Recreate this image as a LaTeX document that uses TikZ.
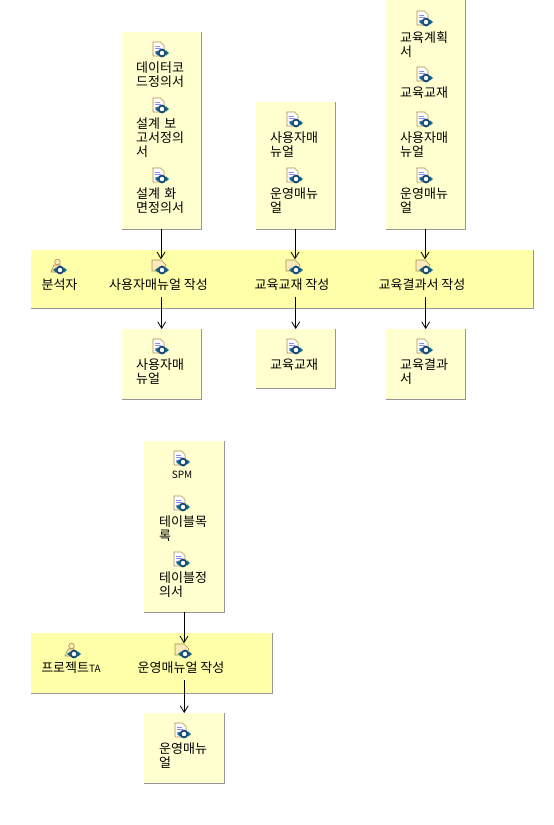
\documentclass[tikz,border=0pt]{standalone}
\usepackage{fontspec}
\setmainfont{Noto Sans CJK KR}
\usetikzlibrary{arrows.meta}
\definecolor{lanefill}{RGB}{255,255,170}
\definecolor{boxfill}{RGB}{255,255,208}
\definecolor{boxedge}{RGB}{150,150,150}
\definecolor{iconedge}{RGB}{170,140,80}
\definecolor{taskfill}{RGB}{252,235,185}
\definecolor{iconblue}{RGB}{20,70,120}
\definecolor{iconteal}{RGB}{20,110,130}
\tikzset{
    every node/.style={font=\fontsize{13}{14}\selectfont,inner sep=0pt},
    lanebox/.style={fill=lanefill,anchor=north west,minimum width=#1},
    bundlebox/.style={fill=boxfill,anchor=north west,minimum width=#1},
    docname/.style={align=left,text width=54pt,anchor=north west},
    itemname/.style={anchor=north},
    taskmark/.style={minimum size=15pt},
    flow/.style={-{Straight Barb[length=6.5pt,width=8pt]},line width=0.8pt}
}
% sync badge shared by all the icons
\newcommand{\syncbadge}[1]{
    \draw[iconblue,line width=1.8pt,fill=white] ([shift={(1,3)}]#1) circle (3.4pt);
    \fill[iconteal] ([shift={(-6,3)}]#1) -- ++(3,-2.5) -- ++(0,5) -- cycle;
    \fill[iconteal] ([shift={(8,3)}]#1) -- ++(-3,-2.5) -- ++(0,5) -- cycle;
}
\newcommand{\docicon}[1]{
    \filldraw[draw=iconedge,fill=white,line width=0.6pt] ([shift={(-8,-8)}]#1) -- ++(7.5,0) -- ++(3.5,3.5) -- ++(0,10.5) -- ++(-11,0) -- cycle;
    \draw[blue!45,line width=0.6pt] ([shift={(-6,-4)}]#1) -- ++(5,0) ([shift={(-6,-1.5)}]#1) -- ++(6,0) ([shift={(-6,1)}]#1) -- ++(3,0);
    \syncbadge{#1}
}
\newcommand{\taskicon}[1]{
    \filldraw[draw=iconedge,fill=taskfill,line width=0.6pt] ([shift={(-9,-7)}]#1) -- ++(9,0) -- ++(5,5) -- ++(-3,6) -- ++(-11,0) -- cycle;
    \syncbadge{#1}
}
\newcommand{\roleicon}[1]{
    \filldraw[draw=iconedge,fill=taskfill,line width=0.6pt] ([shift={(-1.5,-5)}]#1) circle (2.8pt);
    \filldraw[draw=iconedge,fill=taskfill,line width=0.6pt] ([shift={(-8,5)}]#1) -- ++(3,-7) -- ++(6,0) -- ++(2,7) -- cycle;
    \syncbadge{#1}
}
\begin{document}
\begin{tikzpicture}[x=1pt,y=-1pt]
\useasboundingbox (0,0) rectangle (554,825);

% Lanes
\node[lanebox=502pt,minimum height=58pt] (lane1) at (31,250) {};
\node[lanebox=241pt,minimum height=60pt] (lane2) at (31,633) {};

% Input bundles
\node[bundlebox=79pt,minimum height=197pt] (in1) at (122,32) {};
\node[bundlebox=79pt,minimum height=127pt] (in2) at (256,102) {};
\node[bundlebox=79pt,minimum height=229pt] (in3) at (386,0) {};
\node[bundlebox=80pt,minimum height=171pt] (in4) at (144,441) {};

% Output bundles
\node[bundlebox=79pt,minimum height=70pt] (out1) at (122,329) {};
\node[bundlebox=79pt,minimum height=59pt] (out2) at (256,329) {};
\node[bundlebox=79pt,minimum height=70pt] (out3) at (386,329) {};
\node[bundlebox=80pt,minimum height=70pt] (out4) at (144,713) {};

% Shadows of the boxes
\foreach \n in {in1,in2,in3,in4,out1,out2,out3,out4,lane1,lane2}
    \draw[boxedge,line width=0.8pt] (\n.north east) -- (\n.south east) -- (\n.south west);

% Icons of the documents
\foreach \n/\x/\y in {d1/161/50, d2/161/106, d3/161/176, d4/295/120, d5/295/176,
    d6/425/19, d7/425/75, d8/425/120, d9/425/176,
    d10/161/347, d11/295/347, d12/425/347, d13/182/459, d14/182/504, d15/182/560, d16/183/731}{
    \coordinate (\n) at (\x,\y);
    \docicon{\n}
}

% Document names
\node[docname] (t1) at (136,62) {데이터코\\드정의서};
\node[docname] (t2) at (136,118) {설계 보\\고서정의\\서};
\node[docname] (t3) at (136,188) {설계 화\\면정의서};
\node[docname] (t4) at (270,132) {사용자매\\뉴얼};
\node[docname] (t5) at (270,188) {운영매뉴\\얼};
\node[docname] (t6) at (400,31) {교육계획\\서};
\node[docname] (t7) at (400,87) {교육교재};
\node[docname] (t8) at (400,132) {사용자매\\뉴얼};
\node[docname] (t9) at (400,188) {운영매뉴\\얼};
\node[docname] (t10) at (136,359) {사용자매\\뉴얼};
\node[docname] (t11) at (270,359) {교육교재};
\node[docname] (t12) at (400,359) {교육결과\\서};
\node[itemname] (t13) at (182,471) {\fontsize{10}{12}\selectfont SPM};
\node[docname] (t14) at (159,516) {테이블목\\록};
\node[docname] (t15) at (159,572) {테이블정\\의서};
\node[docname] (t16) at (159,743) {운영매뉴\\얼};

% Roles
\coordinate (r1) at (59,267);
\roleicon{r1}
\coordinate (r2) at (73,651);
\roleicon{r2}
\node[itemname] (rn1) at (59.5,279) {분석자};
\node[itemname] (rn2) at (71,662) {프로젝트\fontsize{10}{12}\selectfont TA};

% Tasks
\foreach \n/\x/\y in {a1/161/267, a2/295/267, a3/425/267, a4/184/651}{
    \node[taskmark] (\n) at (\x,\y) {};
    \taskicon{\n.center}
}
\node[itemname] (an1) at (158.5,279) {사용자매뉴얼 작성};
\node[itemname] (an2) at (292,279) {교육교재 작성};
\node[itemname] (an3) at (422,279) {교육결과서 작성};
\node[itemname] (an4) at (181,662) {운영매뉴얼 작성};

% Flows
\draw[flow] (in1.south -| a1) -- (a1.north);
\draw[flow] (in2.south -| a2) -- (a2.north);
\draw[flow] (in3.south -| a3) -- (a3.north);
\draw[flow] (in4.south -| a4) -- (a4.north);
\draw[flow,shorten <=6pt] (an1.south -| out1.north) -- (out1.north);
\draw[flow,shorten <=6pt] (an2.south -| out2.north) -- (out2.north);
\draw[flow,shorten <=6pt] (an3.south -| out3.north) -- (out3.north);
\draw[flow,shorten <=6pt] (an4.south -| out4.north) -- (out4.north);

\end{tikzpicture}
\end{document}
